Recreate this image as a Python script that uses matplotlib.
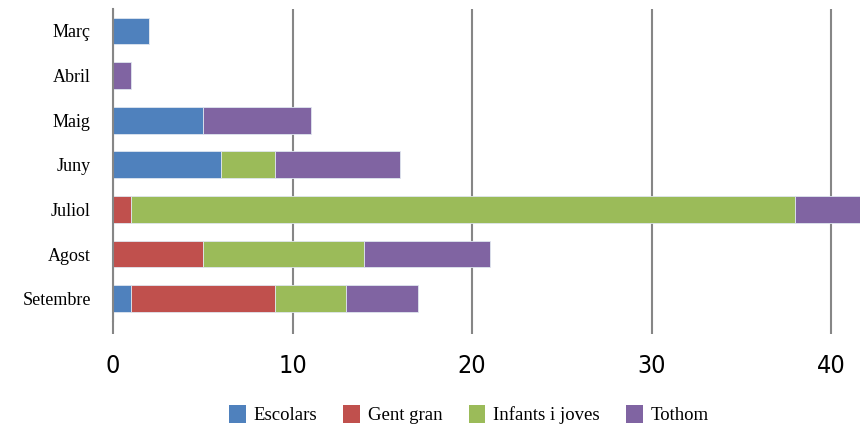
import numpy as np
import matplotlib.pyplot as plt
from matplotlib.patches import Patch

months = ['Març', 'Abril', 'Maig', 'Juny', 'Juliol', 'Agost', 'Setembre']
series = ['Escolars', 'Gent gran', 'Infants i joves', 'Tothom']
escolars = [2, 0, 5, 6, 0, 0, 1]
gent_gran = [0, 0, 0, 0, 1, 5, 8]
infants = [0, 0, 0, 3, 37, 9, 4]
tothom = [0, 1, 6, 7, 4, 7, 4]
colors = ['#4F81BD', '#C0504D', '#9BBB59', '#8064A2']

fig = plt.figure(figsize=(8.6, 4.3), dpi=100)
ax = fig.add_axes([0.1314, 0.2535, 0.8686, 0.7265])

y = np.arange(len(months))
left = np.zeros(len(months))
for vals, c in zip([escolars, gent_gran, infants, tothom], colors):
    vals = np.array(vals, dtype=float)
    ax.barh(y, vals, left=left, height=0.6, color=c, edgecolor='#dfe6ef',
            linewidth=0.6, zorder=3)
    left += vals

ax.set_ylim(len(months) - 0.5, -0.5)
ax.set_xlim(0, 41.6)
ax.set_xticks([0, 10, 20, 30, 40])
ax.set_yticks(y)
ax.set_yticklabels(months, family='Liberation Serif', fontsize=13)
for lab in ax.get_xticklabels():
    lab.set_family('DejaVu Sans')
    lab.set_fontstretch('condensed')
    lab.set_fontsize(18)
ax.tick_params(axis='y', length=0, pad=16)
ax.tick_params(axis='x', length=9, width=1.5, color='#868686', pad=15)
ax.xaxis.grid(True, color='#868686', linewidth=1.5, zorder=1)
for s in ['top', 'right', 'bottom']:
    ax.spines[s].set_visible(False)
ax.spines['left'].set_color('#868686')
ax.spines['left'].set_linewidth(1.5)
ax.spines['left'].set_zorder(4)

handles = [Patch(facecolor=c, edgecolor='none') for c in colors]
fig.legend(handles, series, loc='lower center', bbox_to_anchor=(0.545, -0.025),
           ncol=4, frameon=False, prop={'family': 'Liberation Serif', 'size': 13.5},
           handlelength=0.9, handleheight=1.1, handletextpad=0.4, columnspacing=1.4)

fig.savefig('out.png', dpi=100)
